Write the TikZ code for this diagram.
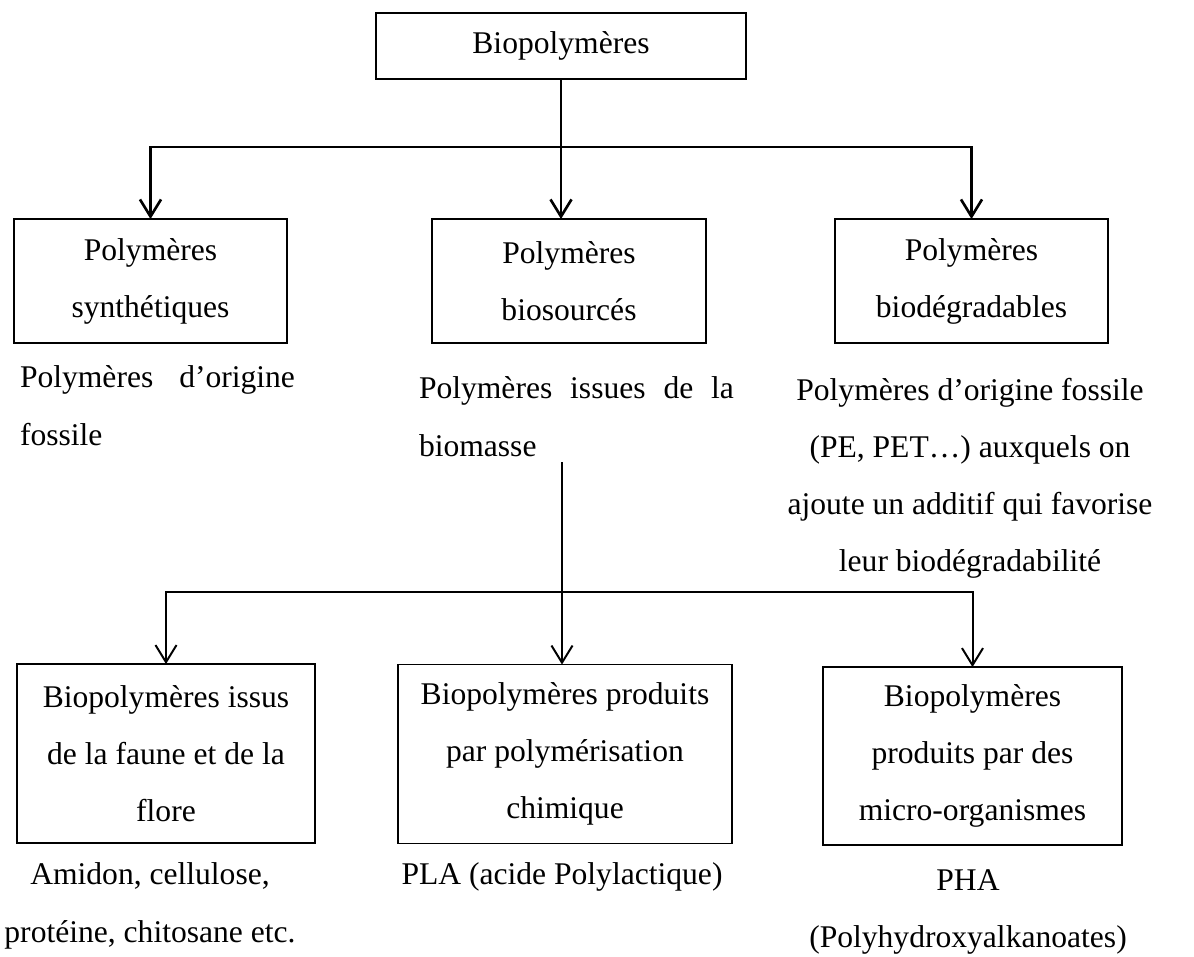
\documentclass[tikz,border=0pt]{standalone}
\usepackage{fontspec}
\setmainfont{Liberation Serif}
\usetikzlibrary{arrows.meta}

\begin{document}
\begin{tikzpicture}[x=0.38pt,y=-0.38pt,
    every node/.style={font=\fontsize{12}{21.7}\selectfont},
    box/.style={draw,line width=0.5pt,inner sep=0pt,outer sep=0pt,align=center},
    note/.style={inner sep=0pt,outer sep=0pt},
    link/.style={line width=1pt},
    arr/.style={line width=1pt,-{Straight Barb[length=6.5pt,width=8pt]}},
    arrlow/.style={line width=0.75pt,-{Straight Barb[length=6.5pt,width=8pt]}}]
  \useasboundingbox (0,0) rectangle (1194,956);
  % Top box
  \node[box,minimum width=140.6pt,minimum height=25.1pt] (bio) at (561,46) {Biopolymères};
  % Three families
  \node[box,minimum width=103.7pt,minimum height=47.1pt] (synth) at (150.5,281) {Polymères\\synthétiques};
  \node[box,minimum width=104.1pt,minimum height=47.1pt] (bios) at (569,281) {Polymères\\biosourcés};
  \node[box,minimum width=103.7pt,minimum height=47.1pt] (biodeg) at (971.5,281) {Polymères\\biodégradables};
  \node[note,anchor=north west,text width=104.5pt,align=justify] (synthTxt) at (20,366) {Polymères d’origine\linebreak fossile};
  \node[note,anchor=north west,text width=119.7pt,align=justify] (biosTxt) at (419,377) {Polymères issues de la\linebreak biomasse};
  \node[note,anchor=north,align=center] (biodegTxt) at (970,378) {Polymères d’origine fossile\\(PE, PET…) auxquels on\\ajoute un additif qui favorise\\leur biodégradabilité};
  \coordinate (j1) at (561,147);
  \draw[link] (bio.south) -- (j1);
  \draw[arr] (j1) -| (synth);
  \draw[arr] (j1) -- (j1 |- bios.north);
  \draw[arr] (j1) -| (biodeg);
  % Biosourced polymers
  \node[box,minimum width=113.2pt,minimum height=68pt] (faune) at (166,753.5) {Biopolymères issus\\de la faune et de la\\flore};
  \node[box,minimum width=126.9pt,minimum height=68pt] (chim) at (565,754) {Biopolymères produits\\par polymérisation\\chimique};
  \node[box,minimum width=113.6pt,minimum height=67.6pt] (micro) at (972.5,756) {Biopolymères\\produits par des\\micro-organismes};
  \node[note,anchor=north,align=center] (fauneTxt) at (150,863) {Amidon, cellulose,\\protéine, chitosane etc.};
  \node[note,anchor=north,align=center] (chimTxt) at (562,863) {PLA (acide Polylactique)};
  \node[note,anchor=north,align=center] (microTxt) at (968,870) {PHA\\(Polyhydroxyalkanoates)};
  \coordinate (b0) at (562,462);
  \coordinate (j2) at (562,592);
  \draw[line width=0.75pt] (b0) -- (j2);
  \draw[arrlow] (j2) -- (j2 |- chim.north);
  \draw[arrlow] (j2) -| (faune);
  \draw[arrlow] (j2) -| (micro);
\end{tikzpicture}
\end{document}
